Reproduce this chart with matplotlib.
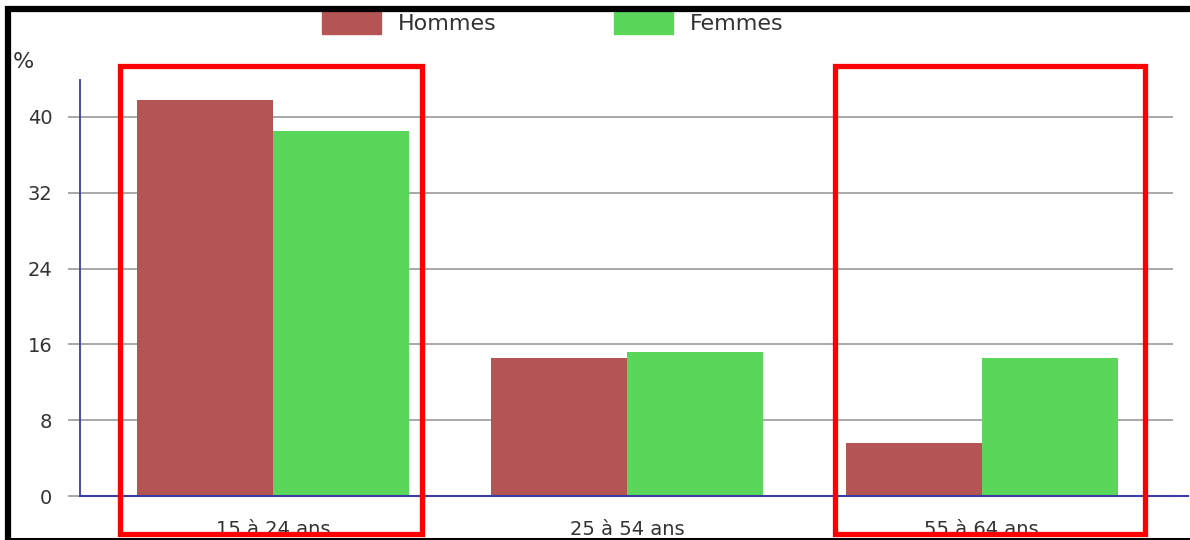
import numpy as np
import matplotlib.pyplot as plt
from matplotlib.patches import Rectangle, Patch
from matplotlib.lines import Line2D

# taux de chômage par tranche d'âge
categories = ['15 à 24 ans', '25 à 54 ans', '55 à 64 ans']
hommes = [41.8, 14.6, 5.6]
femmes = [38.5, 15.2, 14.6]
yticks = [0, 8, 16, 24, 32, 40]

W, H = 1190, 540
fig = plt.figure(figsize=(W / 100, H / 100), dpi=100)
plt.rcParams['font.family'] = 'DejaVu Sans'

def fx(px):
    return px / W

def fy(py):
    return 1 - py / H

ax = fig.add_axes([fx(80), fy(496), fx(1173) - fx(80), fy(80) - fy(496)])

x = np.arange(len(categories))
w = 0.384
ax.bar(x - w / 2, hommes, w, color='#b55454', label='Hommes', zorder=3)
ax.bar(x + w / 2, femmes, w, color='#5ad75a', label='Femmes', zorder=3)

ax.set_xlim(-0.544, 2.54)
ax.set_ylim(0, 43.9)
ax.set_yticks(yticks)
ax.set_xticks(x)
ax.set_xticklabels(categories)
ax.yaxis.grid(True, color='#999999', lw=1.2, zorder=1)

for s in ['top', 'right']:
    ax.spines[s].set_visible(False)
ax.spines['left'].set_color('#3c3ca8')
ax.spines['bottom'].set_color('#3c3ca8')
ax.spines['left'].set_linewidth(1.3)
ax.spines['bottom'].set_linewidth(1.5)
ax.spines['left'].set_zorder(4)
ax.spines['bottom'].set_zorder(4)

ax.tick_params(axis='y', length=9, width=1.2, color='#999999', pad=11,
               labelsize=14, labelcolor='#333333')
ax.tick_params(axis='x', length=0, pad=17, labelsize=14, labelcolor='#333333')

# axe horizontal prolongé au-delà de la grille
fig.add_artist(Line2D([fx(1173), fx(1188)], [fy(496), fy(496)],
                      color='#3c3ca8', lw=1.5))

fig.text(fx(13), fy(62), '%', fontsize=16, color='#333333', va='center', ha='left')

handles = [Patch(color='#b55454', label='Hommes'), Patch(color='#5ad75a', label='Femmes')]
fig.legend(handles=handles, loc='upper left', bbox_to_anchor=(fx(322), fy(11)),
           ncol=2, frameon=False, fontsize=16, handlelength=2.65, handleheight=1.2,
           handletextpad=0.75, columnspacing=5.3, borderpad=0, borderaxespad=0,
           labelcolor='#333333')

# encadrés rouges sur les tranches extrêmes
for x0, x1 in [(119.5, 421.5), (835.5, 1144.5)]:
    fig.add_artist(Rectangle((fx(x0), fy(534)), fx(x1) - fx(x0), fy(66) - fy(534),
                             fill=False, edgecolor='#ff0000', lw=3.8, zorder=10))

# cadre noir
fig.add_artist(Line2D([fx(5), fx(1190)], [fy(9), fy(9)], color='black', lw=4.5,
                      solid_capstyle='butt', zorder=11))
fig.add_artist(Line2D([fx(8), fx(8)], [fy(6), fy(540)], color='black', lw=4.5,
                      solid_capstyle='butt', zorder=11))
fig.add_artist(Line2D([fx(5), fx(1190)], [fy(539), fy(539)], color='black', lw=2.2,
                      solid_capstyle='butt', zorder=9))

fig.savefig('out.png', dpi=100)
